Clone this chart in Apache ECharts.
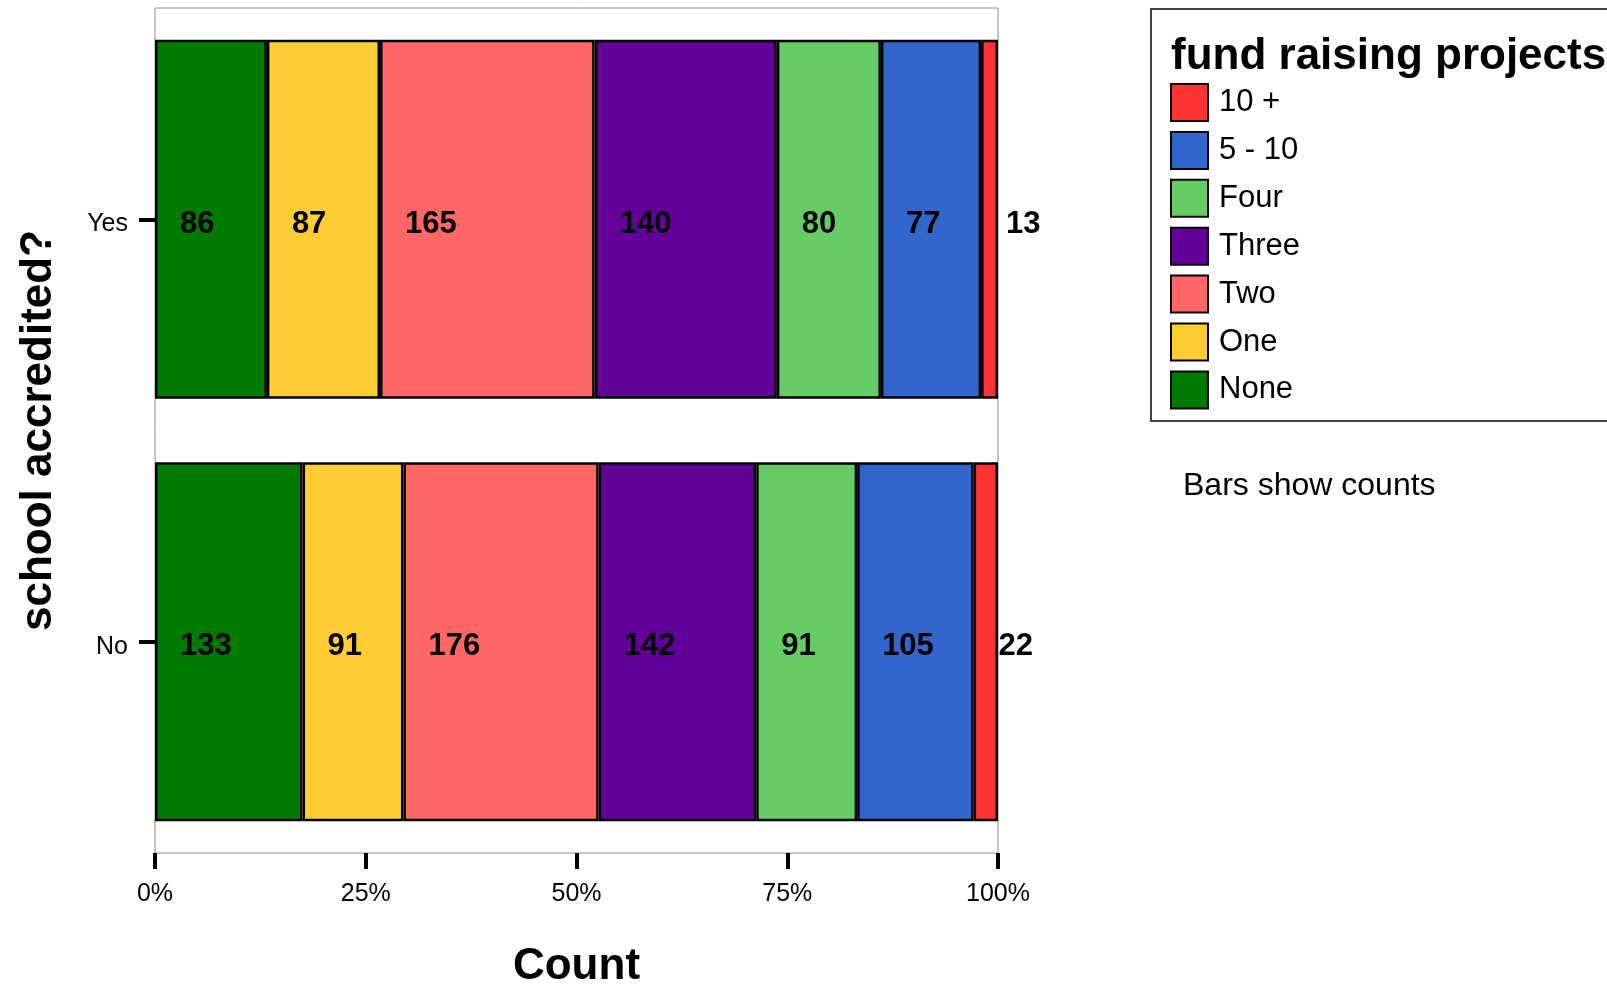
<!DOCTYPE html>
<html>
<head>
<meta charset="utf-8">
<script src="https://cdn.jsdelivr.net/npm/echarts@6/dist/echarts.min.js"></script>
<style>
html,body{margin:0;padding:0;background:#fff;}
#chart{width:1607px;height:986px;}
</style>
</head>
<body>
<div id="chart"></div>
<script>
const categories = ['No', 'Yes'];
const seriesNames = ['None', 'One', 'Two', 'Three', 'Four', '5 - 10', '10 +'];
const noCounts = [133, 91, 176, 142, 91, 105, 22];
const yesCounts = [86, 87, 165, 140, 80, 77, 13];
const colors = ['#007B00', '#FFCC33', '#FF6666', '#630099', '#66CC66', '#3366CC', '#FF3333'];
const legendOrder = ['10 +', '5 - 10', 'Four', 'Three', 'Two', 'One', 'None'];
const xTickLabels = ['0%', '25%', '50%', '75%', '100%'];
const legendTitle = 'fund raising projects';
const noteText = 'Bars show counts';
const xTitle = 'Count';
const yTitle = 'school accredited?';

const FONT = "'Liberation Sans', Arial, Helvetica, sans-serif";
const sum = a => a.reduce((s, v) => s + v, 0);
const noTotal = sum(noCounts);
const yesTotal = sum(yesCounts);
const countsByCat = [noCounts, yesCounts];

const series = seriesNames.map((name, i) => ({
  name: name,
  type: 'bar',
  stack: 'total',
  barWidth: '85%',
  data: [noCounts[i] / noTotal, yesCounts[i] / yesTotal],
  itemStyle: { color: colors[i], borderColor: '#000', borderWidth: 2.5 },
  label: {
    show: true,
    position: 'insideLeft',
    distance: 25,
    offset: [0, 5],
    fontFamily: FONT,
    fontWeight: 'bold',
    fontSize: 31,
    color: '#000',
    formatter: p => String(countsByCat[p.dataIndex][i])
  },
  emphasis: { disabled: true }
}));

const chart = echarts.init(document.getElementById('chart'), null, { renderer: 'canvas' });
chart.setOption({
  animation: false,
  backgroundColor: '#fff',
  textStyle: { fontFamily: FONT },
  grid: {
    left: 155, right: 609, top: 8, bottom: 133,
    containLabel: false, outerBoundsMode: 'none',
    show: true, borderColor: '#8c8c8c', borderWidth: 1, backgroundColor: 'transparent'
  },
  xAxis: {
    type: 'value', min: 0, max: 1, interval: 0.25,
    axisLine: { show: false },
    splitLine: { show: false },
    axisTick: { show: true, length: 16, lineStyle: { color: '#000', width: 4 } },
    axisLabel: {
      margin: 29, fontSize: 25, color: '#000', fontFamily: FONT,
      formatter: v => xTickLabels[Math.round(v / 0.25)]
    },
    name: xTitle, nameLocation: 'middle', nameGap: 92,
    nameTextStyle: { fontSize: 44, fontWeight: 'bold', color: '#000', fontFamily: FONT }
  },
  yAxis: {
    type: 'category', data: categories,
    axisLine: { show: false },
    splitLine: { show: false },
    axisTick: { show: true, alignWithLabel: true, length: 16, lineStyle: { color: '#000', width: 4 } },
    axisLabel: { margin: 27, fontSize: 25, color: '#000', fontFamily: FONT, verticalAlign: 'top', lineHeight: 10 },
    name: yTitle, nameLocation: 'middle', nameGap: 94, nameRotate: 90,
    nameTextStyle: { fontSize: 44, fontWeight: 'bold', color: '#000', fontFamily: FONT }
  },
  legend: {
    data: legendOrder,
    orient: 'vertical',
    left: 1170, top: 83,
    itemWidth: 37, itemHeight: 37, itemGap: 8.9,
    icon: 'rect',
    selectedMode: false,
    padding: 0,
    textStyle: { fontSize: 31, color: '#000', fontFamily: FONT, padding: [0, 0, 0, 6] }
  },
  graphic: [
    {
      type: 'rect', left: 1150, top: 8, z: -1,
      shape: { width: 480, height: 412 },
      style: { fill: '#fff', stroke: '#444', lineWidth: 2 }
    },
    {
      type: 'text', left: 1171, top: 35,
      style: { text: legendTitle, font: "bold 44px " + FONT, fill: '#000' }
    },
    {
      type: 'text', left: 1183, top: 470,
      style: { text: noteText, font: "32px " + FONT, fill: '#000' }
    }
  ],
  series: series
});
</script>
</body>
</html>
